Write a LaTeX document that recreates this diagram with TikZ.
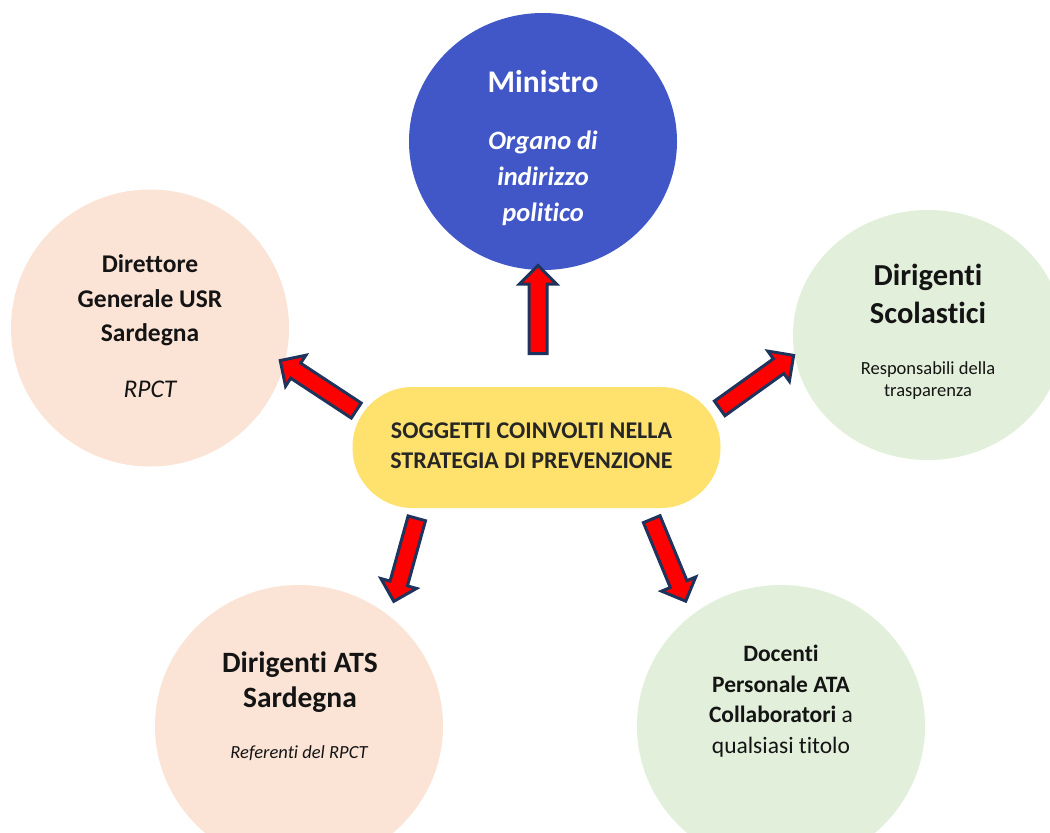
\documentclass[tikz,border=0pt]{standalone}
\usepackage{fontspec}
\setmainfont{Carlito}[Ligatures={CommonOff,ContextualOff}]
\usetikzlibrary{shapes.geometric,shapes.arrows,calc}
\definecolor{minblue}{RGB}{65,87,199}
\definecolor{peach}{RGB}{251,228,214}
\definecolor{softgreen}{RGB}{226,239,218}
\definecolor{coreyellow}{RGB}{255,226,110}
\definecolor{navyline}{RGB}{31,52,92}
\definecolor{arrowred}{RGB}{255,0,0}
\definecolor{txtdark}{RGB}{20,20,20}
\definecolor{coretxt}{RGB}{38,38,38}
\newcommand\fs[1]{\fontsize{#1}{#1}\selectfont}
\newcommand\blockarrow[3]{%
  \path let \p1=($(#3)-(#2)$), \n1={atan2(\y1,\x1)}, \n2={veclen(\x1,\y1)} in
    node[barrow, minimum height=\n2, rotate=\n1] (#1) at ($(#2)!0.5!(#3)$) {};}
\tikzset{
  bubble/.style={ellipse, draw=none, inner sep=0pt, outer sep=0pt},
  barrow/.style={single arrow, draw=navyline, fill=arrowred, line width=3pt,
    single arrow head extend=9.5pt, single arrow tip angle=90,
    inner xsep=0pt, inner ysep=7.5pt, minimum width=34pt, outer sep=0pt},
  lbl/.style={anchor=base, inner sep=0pt, text=txtdark},
}
\begin{document}
\begin{tikzpicture}[x=1pt,y=-1pt]
\useasboundingbox (0,0) rectangle (1050,833);
\clip (0,0) rectangle (1050,833);
\fill[white] (0,0) rectangle (1050,833);
% bubbles
\node[bubble, fill=minblue, minimum width=268pt, minimum height=257pt] (mini) at (543,141.5) {};
\node[bubble, fill=peach, minimum width=278pt, minimum height=277pt] (dir) at (150,328) {};
\node[bubble, fill=softgreen, minimum width=270pt, minimum height=250pt] (dsc) at (928,335) {};
\node[bubble, fill=peach, minimum width=288pt, minimum height=282pt] (ats) at (299,726) {};
\node[bubble, fill=softgreen, minimum width=288pt, minimum height=282pt] (doc) at (781,726) {};
\node[fill=coreyellow, rounded corners=60pt, minimum width=368pt, minimum height=121pt, inner sep=0pt] (core) at (536.5,447.5) {};
% arrow end points
\coordinate (uA) at (538,358);  \coordinate (uB) at (538,270);
\coordinate (lA) at (360,413);  \coordinate (lB) at (284,363);
\coordinate (rA) at (716,411);  \coordinate (rB) at (790,358);
\coordinate (dlA) at (418,514); \coordinate (dlB) at (395,597);
\coordinate (drA) at (650,515); \coordinate (drB) at (684,597);
\blockarrow{aup}{uA}{uB}
\blockarrow{aleft}{lA}{lB}
\blockarrow{aright}{rA}{rB}
\blockarrow{adl}{dlA}{dlB}
\blockarrow{adr}{drA}{drB}
% Ministro
\node[lbl, text=white, font=\fs{31.5}\bfseries] (m1) at (543,92) {Ministro};
\node[lbl, text=white, font=\fs{26.5}\bfseries\itshape] (m2) at (543,149) {Organo di};
\node[lbl, text=white, font=\fs{26.5}\bfseries\itshape] (m3) at (543,185) {indirizzo};
\node[lbl, text=white, font=\fs{26.5}\bfseries\itshape] (m4) at (543,221) {politico};
% Direttore
\node[lbl, font=\fs{25.5}\bfseries] (d1) at (150,272) {Direttore};
\node[lbl, font=\fs{25.5}\bfseries] (d2) at (150,307) {Generale USR};
\node[lbl, font=\fs{25.5}\bfseries] (d3) at (150,341) {Sardegna};
\node[lbl, font=\fs{25.5}\itshape] (d4) at (150,397) {RPCT};
% Dirigenti Scolastici
\node[lbl, font=\fs{30.5}\bfseries] (s1) at (928,285) {Dirigenti};
\node[lbl, font=\fs{30.5}\bfseries] (s2) at (928,323) {Scolastici};
\node[lbl, font=\fs{18.5}] (s3) at (928,374) {Responsabili della};
\node[lbl, font=\fs{18.5}] (s4) at (928,396) {trasparenza};
% core
\node[lbl, font=\fs{24}\bfseries, text=coretxt] (c1) at (531.5,438) {SOGGETTI COINVOLTI NELLA};
\node[lbl, font=\fs{24}\bfseries, text=coretxt] (c2) at (531.5,468) {STRATEGIA DI PREVENZIONE};
% Dirigenti ATS
\node[lbl, font=\fs{29.5}\bfseries] (a1) at (300,672) {Dirigenti ATS};
\node[lbl, font=\fs{29.5}\bfseries] (a2) at (300,707) {Sardegna};
\node[lbl, font=\fs{18.5}\itshape] (a3) at (299,758) {Referenti del RPCT};
% Docenti
\node[lbl, font=\fs{23.5}\bfseries] (o1) at (781,661) {Docenti};
\node[lbl, font=\fs{23.5}\bfseries] (o2) at (781,692) {Personale ATA};
\node[lbl, font=\fs{23.5}] (o3) at (781,722) {\textbf{Collaboratori} a};
\node[lbl, font=\fs{23.5}] (o4) at (781,753) {qualsiasi titolo};
\end{tikzpicture}
\end{document}
